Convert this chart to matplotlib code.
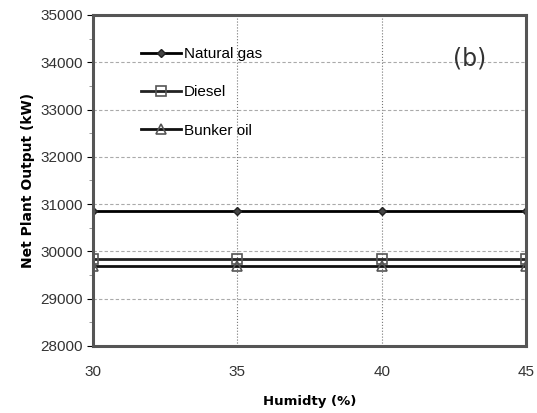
import matplotlib.pyplot as plt
from matplotlib.ticker import MultipleLocator

# data
humidity = [30, 35, 40, 45]
natural_gas = [30850, 30850, 30850, 30850]
diesel = [29850, 29850, 29850, 29850]
bunker_oil = [29700, 29700, 29700, 29700]

plt.rcParams['font.family'] = ['Liberation Sans', 'DejaVu Sans']

fig = plt.figure(figsize=(5.37, 4.13), dpi=100)
ax = fig.add_axes([93/537, 1 - 346/413, (526 - 93)/537, (346 - 15)/413])

ax.plot(humidity, natural_gas, color='black', lw=2, marker='D', ms=4,
        mfc='#444444', mec='#222222', label='Natural gas')
ax.plot(humidity, diesel, color='#222222', lw=2, marker='s', ms=7,
        mfc='none', mec='#555555', mew=1.2, label='Diesel')
ax.plot(humidity, bunker_oil, color='#111111', lw=2, marker='^', ms=7,
        mfc='none', mec='#555555', mew=1.2, label='Bunker oil')

ax.set_xlim(30, 45)
ax.set_ylim(28000, 35000)
ax.set_xticks([30, 35, 40, 45])
ax.yaxis.set_major_locator(MultipleLocator(1000))
ax.yaxis.set_minor_locator(MultipleLocator(500))
ax.tick_params(axis='x', length=0, pad=14, labelsize=11)
ax.tick_params(axis='y', which='major', length=4, labelsize=11)
ax.tick_params(axis='y', which='minor', length=3, colors='#888888')
for lab in ax.get_xticklabels() + ax.get_yticklabels():
    lab.set_color('#333333')

ax.grid(axis='y', which='major', ls=(0, (3, 2)), color='#aaaaaa', lw=0.8)
ax.grid(axis='x', which='major', ls=':', color='#777777', lw=0.8)
ax.set_axisbelow(True)

for s in ax.spines.values():
    s.set_linewidth(2.2)
    s.set_color('#555555')

ax.set_xlabel('Humidty (%)', fontweight='bold', fontsize=9.5, labelpad=11,
              family=['DejaVu Sans'])
ax.set_ylabel('Net Plant Output (kW)', fontweight='bold', fontsize=10, labelpad=4,
              family=['DejaVu Sans'])

ax.legend(loc='upper left', bbox_to_anchor=(0.08, 0.945), frameon=False,
          labelspacing=1.6, handlelength=2.6, handletextpad=0.2, fontsize=11)

ax.text(0.87, 0.87, '(b)', transform=ax.transAxes, fontsize=17,
        ha='center', va='center', color='#333333', family=['DejaVu Sans'])

fig.savefig('out.png', dpi=100)
